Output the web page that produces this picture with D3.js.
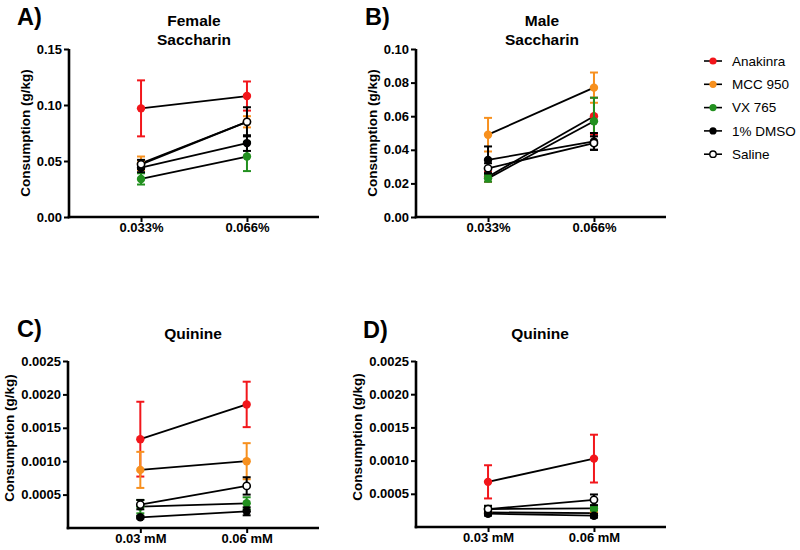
<!DOCTYPE html>
<html>
<head>
<meta charset="utf-8">
<script src="https://cdn.jsdelivr.net/npm/d3@7"></script>
<style>
  html, body { margin: 0; padding: 0; background: #fff; }
  svg { display: block; font-family: "Liberation Sans", Arial, Helvetica, sans-serif; }
</style>
</head>
<body>
<svg id="chart" width="800" height="550"></svg>
<script>
// ---------------- DATA ----------------
const seriesNames = ["Anakinra", "MCC 950", "VX 765", "1% DMSO", "Saline"];
const saccharinConc = ["0.033%", "0.066%"];
const quinineConc = ["0.03 mM", "0.06 mM"];

// Female saccharin (panel A): mean and SEM per series, per concentration
const femaleSaccharinMean = [[0.097, 0.108], [0.048, 0.085], [0.034, 0.054], [0.044, 0.066], [0.047, 0.085]];
const femaleSaccharinSem  = [[0.025, 0.013], [0.006, 0.005], [0.005, 0.013], [0.004, 0.007], [0.004, 0.013]];

// Male saccharin (panel B)
const maleSaccharinMean = [[0.024, 0.060], [0.049, 0.077], [0.023, 0.057], [0.034, 0.045], [0.029, 0.044]];
const maleSaccharinSem  = [[0.003, 0.011], [0.010, 0.009], [0.002, 0.014], [0.008, 0.005], [0.003, 0.004]];

// Female quinine (panel C)
const femaleQuinineMean = [[0.00133, 0.00185], [0.00087, 0.00100], [0.00032, 0.00037], [0.00016, 0.00025], [0.00035, 0.00063]];
const femaleQuinineSem  = [[0.00056, 0.00034], [0.00027, 0.00027], [0.00010, 0.00009], [0.00002, 0.00006], [0.00007, 0.00013]];

// Male quinine (panel D)
const maleQuinineMean = [[0.00068, 0.00103], [0.00022, 0.00021], [0.00027, 0.00028], [0.00020, 0.00017], [0.00027, 0.00041]];
const maleQuinineSem  = [[0.00025, 0.00036], [0.00003, 0.00003], [0.00004, 0.00003], [0.00003, 0.00003], [0.00005, 0.00008]];

// Y tick values
const femaleSaccharinTicks = [0, 0.05, 0.10, 0.15];
const maleSaccharinTicks = [0, 0.02, 0.04, 0.06, 0.08, 0.10];
const quinineTicks = [0.0005, 0.0010, 0.0015, 0.0020, 0.0025];

// ---------------- STYLE ----------------
const seriesColors = ["#f2161b", "#f7901e", "#22901f", "#000000", "#000000"];
const seriesOpen = [false, false, false, false, true];

const svg = d3.select("#chart");

const panels = [
  { letter: "A)", title: ["Female", "Saccharin"], cats: saccharinConc, mean: femaleSaccharinMean, sem: femaleSaccharinSem,
    ticks: femaleSaccharinTicks, fmt: d3.format(".2f"), yMax: 0.15,
    x0: 69, x1: 319, yTop: 49, yBot: 217, letterX: 17, letterY: 25, titleX: 194, titleY: [26, 45], ylabX: 30, ylabY: 133 },
  { letter: "B)", title: ["Male", "Saccharin"], cats: saccharinConc, mean: maleSaccharinMean, sem: maleSaccharinSem,
    ticks: maleSaccharinTicks, fmt: d3.format(".2f"), yMax: 0.10,
    x0: 416, x1: 666, yTop: 49, yBot: 217, letterX: 365, letterY: 25, titleX: 542, titleY: [26, 45], ylabX: 377, ylabY: 133 },
  { letter: "C)", title: ["Quinine"], cats: quinineConc, mean: femaleQuinineMean, sem: femaleQuinineSem,
    ticks: quinineTicks, fmt: d3.format(".4f"), yMax: 0.0025,
    x0: 68, x1: 319, yTop: 361, yBot: 528, letterX: 17, letterY: 337, titleX: 193, titleY: [339], ylabX: 14, ylabY: 438 },
  { letter: "D)", title: ["Quinine"], cats: quinineConc, mean: maleQuinineMean, sem: maleQuinineSem,
    ticks: quinineTicks, fmt: d3.format(".4f"), yMax: 0.0025,
    x0: 416, x1: 666, yTop: 361, yBot: 527, letterX: 363, letterY: 338, titleX: 540, titleY: [339], ylabX: 362, ylabY: 437 }
];

panels.forEach(p => {
  const g = svg.append("g");
  const x = d3.scalePoint().domain(p.cats).range([p.x0, p.x1]).padding(0.68);
  const y = d3.scaleLinear().domain([0, p.yMax]).range([p.yBot, p.yTop]);

  // panel letter
  g.append("text").attr("x", p.letterX).attr("y", p.letterY)
    .attr("font-size", 23.5).attr("font-weight", "bold").text(p.letter);

  // title
  p.title.forEach((t, i) => {
    g.append("text").attr("x", p.titleX).attr("y", p.titleY[i]).attr("text-anchor", "middle")
      .attr("font-size", 15.5).attr("font-weight", "bold").text(t);
  });

  // y label
  g.append("text").attr("transform", `translate(${p.ylabX},${p.ylabY}) rotate(-90)`)
    .attr("text-anchor", "middle").attr("font-size", 13.5).attr("font-weight", "bold")
    .text("Consumption (g/kg)");

  // axes
  const yAxis = g.append("g").attr("transform", `translate(${p.x0},0)`)
    .call(d3.axisLeft(y).tickValues(p.ticks).tickFormat(p.fmt).tickSize(5).tickPadding(2).tickSizeOuter(0));
  const xAxis = g.append("g").attr("transform", `translate(0,${p.yBot})`)
    .call(d3.axisBottom(x).tickSize(5).tickPadding(1).tickSizeOuter(0));
  [yAxis, xAxis].forEach(a => {
    a.select(".domain").attr("stroke", "#000").attr("stroke-width", 2.6);
    a.selectAll(".tick line").attr("stroke", "#000").attr("stroke-width", 2);
    a.selectAll(".tick text").attr("fill", "#000").attr("font-size", 13).attr("font-weight", "bold")
      .attr("font-family", "'Liberation Sans', Arial, sans-serif");
  });
  // extend domain lines to meet at corner
  yAxis.select(".domain").attr("d", `M0,${p.yTop}V${p.yBot + 1.3}`);
  xAxis.select(".domain").attr("d", `M${p.x0 - 1.3},0H${p.x1}`);

  // series
  seriesNames.forEach((name, si) => {
    const col = seriesColors[si];
    const pts = p.cats.map((c, ci) => ({ c, m: p.mean[si][ci], s: p.sem[si][ci] }));
    const sg = g.append("g");
    // error bars
    pts.forEach(d => {
      const cx = x(d.c);
      const yHi = y(d.m + d.s), yLo = y(Math.max(0, d.m - d.s));
      sg.append("line").attr("x1", cx).attr("x2", cx).attr("y1", yHi).attr("y2", yLo)
        .attr("stroke", col).attr("stroke-width", 2);
      [yHi, yLo].forEach(yy => sg.append("line").attr("x1", cx - 4).attr("x2", cx + 4)
        .attr("y1", yy).attr("y2", yy).attr("stroke", col).attr("stroke-width", 2));
    });
    // connecting line
    sg.append("path").datum(pts)
      .attr("d", d3.line().x(d => x(d.c)).y(d => y(d.m)))
      .attr("fill", "none").attr("stroke", "#000").attr("stroke-width", 1.8);
    // markers
    sg.selectAll("circle").data(pts).join("circle")
      .attr("cx", d => x(d.c)).attr("cy", d => y(d.m))
      .attr("r", seriesOpen[si] ? 3.6 : 4.2)
      .attr("fill", seriesOpen[si] ? "#fff" : col)
      .attr("stroke", seriesOpen[si] ? "#000" : "none")
      .attr("stroke-width", 1.6);
  });
});

// legend
const legend = svg.append("g");
seriesNames.forEach((name, i) => {
  const yy = 61 + i * 23.3;
  legend.append("line").attr("x1", 704).attr("x2", 722).attr("y1", yy).attr("y2", yy)
    .attr("stroke", "#000").attr("stroke-width", 1.6);
  legend.append("circle").attr("cx", 713).attr("cy", yy).attr("r", seriesOpen[i] ? 3.2 : 3.6)
    .attr("fill", seriesOpen[i] ? "#fff" : seriesColors[i])
    .attr("stroke", seriesOpen[i] ? "#000" : "none").attr("stroke-width", 1.4);
  legend.append("text").attr("x", 732).attr("y", yy + 4.8).attr("font-size", 13.5).text(name);
});
</script>
</body>
</html>
